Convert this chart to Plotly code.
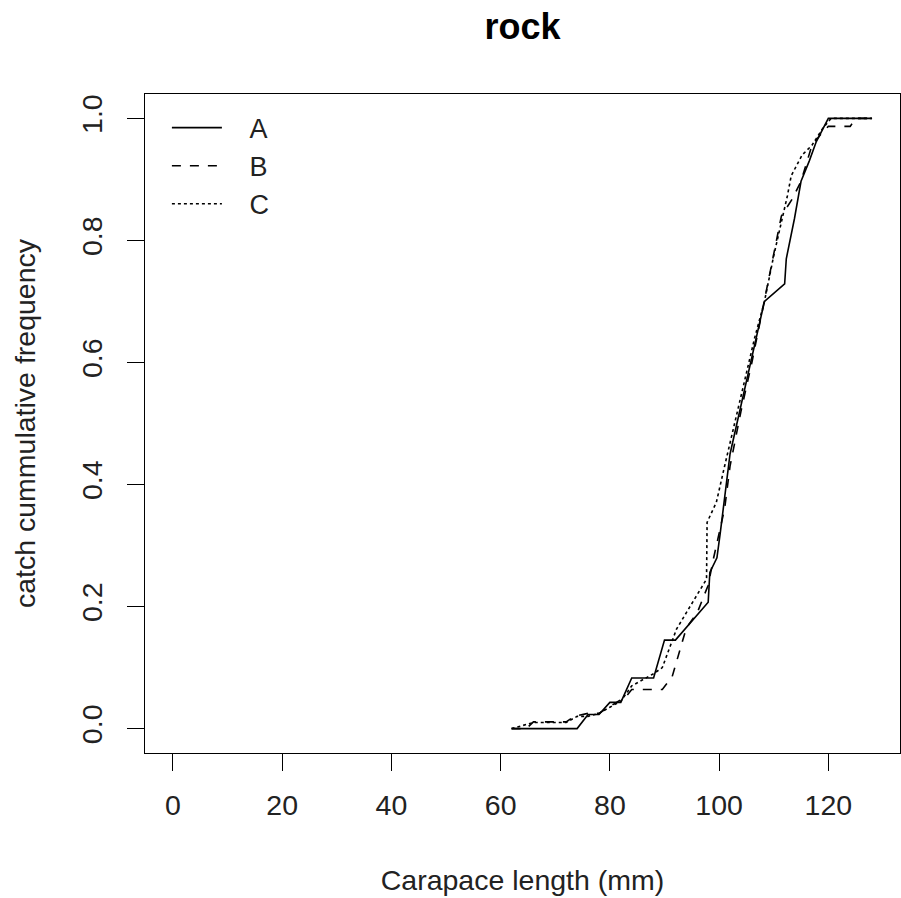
import plotly.graph_objects as go

# Series A (solid)
a_len = [62, 74, 76, 78, 80, 82, 84, 88, 90, 92, 98, 98.3, 99.6, 100.2, 102, 104, 106, 108.3, 112, 112.3, 113.8, 115, 116.5, 117.8, 120, 128]
a_cum = [0, 0, 0.023, 0.023, 0.043, 0.043, 0.083, 0.083, 0.145, 0.145, 0.207, 0.256, 0.28, 0.32, 0.45, 0.53, 0.61, 0.70, 0.729, 0.77, 0.836, 0.897, 0.93, 0.962, 1.0, 1.0]

# Series B (dashed)
b_len = [62, 64.7, 66, 72, 73.5, 76, 78, 80, 83, 84, 89.6, 91.4, 93, 94, 96, 98, 99, 100, 101, 102, 104, 106, 108.3, 110, 111.4, 113.4, 115, 117, 119, 120, 124, 125, 128]
b_cum = [0, 0, 0.011, 0.011, 0.02, 0.025, 0.025, 0.036, 0.053, 0.064, 0.064, 0.085, 0.135, 0.165, 0.19, 0.235, 0.28, 0.32, 0.36, 0.43, 0.52, 0.60, 0.70, 0.775, 0.84, 0.868, 0.897, 0.956, 0.978, 0.987, 0.987, 1.0, 1.0]

# Series C (dotted)
c_len = [62, 64, 66, 72, 74, 76, 78, 80, 82, 84, 86, 88, 89.6, 90.9, 92.2, 94, 96, 97.7, 97.8, 99.5, 101, 103, 105, 106.5, 108.3, 110, 111.4, 112.5, 113.2, 115.2, 117, 119, 120.5, 128]
c_cum = [0, 0.005, 0.01, 0.01, 0.02, 0.02, 0.025, 0.035, 0.045, 0.07, 0.08, 0.09, 0.10, 0.13, 0.163, 0.19, 0.22, 0.245, 0.338, 0.371, 0.43, 0.507, 0.58, 0.64, 0.70, 0.775, 0.83, 0.873, 0.906, 0.94, 0.956, 0.984, 1.0, 1.0]

series_names = ["A", "B", "C"]
x_ticks = [0, 20, 40, 60, 80, 100, 120]
y_ticks = [0.0, 0.2, 0.4, 0.6, 0.8, 1.0]
y_tick_text = ["0.0", "0.2", "0.4", "0.6", "0.8", "1.0"]

FONT = "Liberation Sans, Arial, sans-serif"
FS = 28.5
NB = "\u00a0\u00a0\u00a0"

W, H = 901, 898

fig = go.Figure()
for name, xs, ys, dash in [(series_names[0], a_len, a_cum, "solid"),
                           (series_names[1], b_len, b_cum, "dash"),
                           (series_names[2], c_len, c_cum, "dot")]:
    fig.add_trace(go.Scatter(x=xs, y=ys, mode="lines", name=NB + name,
                             line=dict(color="black", width=1.6, dash=dash)))

fig.update_layout(
    width=W, height=H,
    margin=dict(l=145, r=1, t=94, b=145, autoexpand=False),
    paper_bgcolor="white", plot_bgcolor="white",
    font=dict(family=FONT, size=FS, color="#222"),
    title=dict(text="<b>rock</b>", x=0.5, xref="paper", xanchor="center",
               y=1 - 26 / H, yanchor="middle",
               font=dict(family=FONT, size=36, color="black")),
    showlegend=True,
    legend=dict(x=0.029, y=0.9855, xanchor="left", yanchor="top",
                bgcolor="rgba(0,0,0,0)", borderwidth=0,
                font=dict(family=FONT, size=27, color="#222"),
                itemwidth=50, tracegroupgap=0),
    xaxis=dict(range=[-5.12, 133.12], tickvals=x_ticks, ticktext=[str(v) for v in x_ticks],
               showgrid=False, zeroline=False, showline=True, linecolor="black",
               linewidth=1.2, mirror=True, ticks="outside", ticklen=17, tickwidth=1.2,
               tickcolor="black", ticklabelstandoff=10,
               title=dict(text="Carapace length (mm)", standoff=49,
                          font=dict(family=FONT, size=FS, color="#222"))),
    yaxis=dict(range=[-0.04, 1.04], tickvals=y_ticks, ticktext=y_tick_text,
               tickangle=-90,
               showgrid=False, zeroline=False, showline=True, linecolor="black",
               linewidth=1.2, mirror=True, ticks="outside", ticklen=17, tickwidth=1.2,
               tickcolor="black", ticklabelstandoff=14,
               title=dict(text="catch cummulative frequency", standoff=31,
                          font=dict(family=FONT, size=FS, color="#222"))),
)

fig.write_html("out.html",
               config={"displayModeBar": False},
               post_script="document.body.style.margin='0';document.body.style.overflow='hidden';")
